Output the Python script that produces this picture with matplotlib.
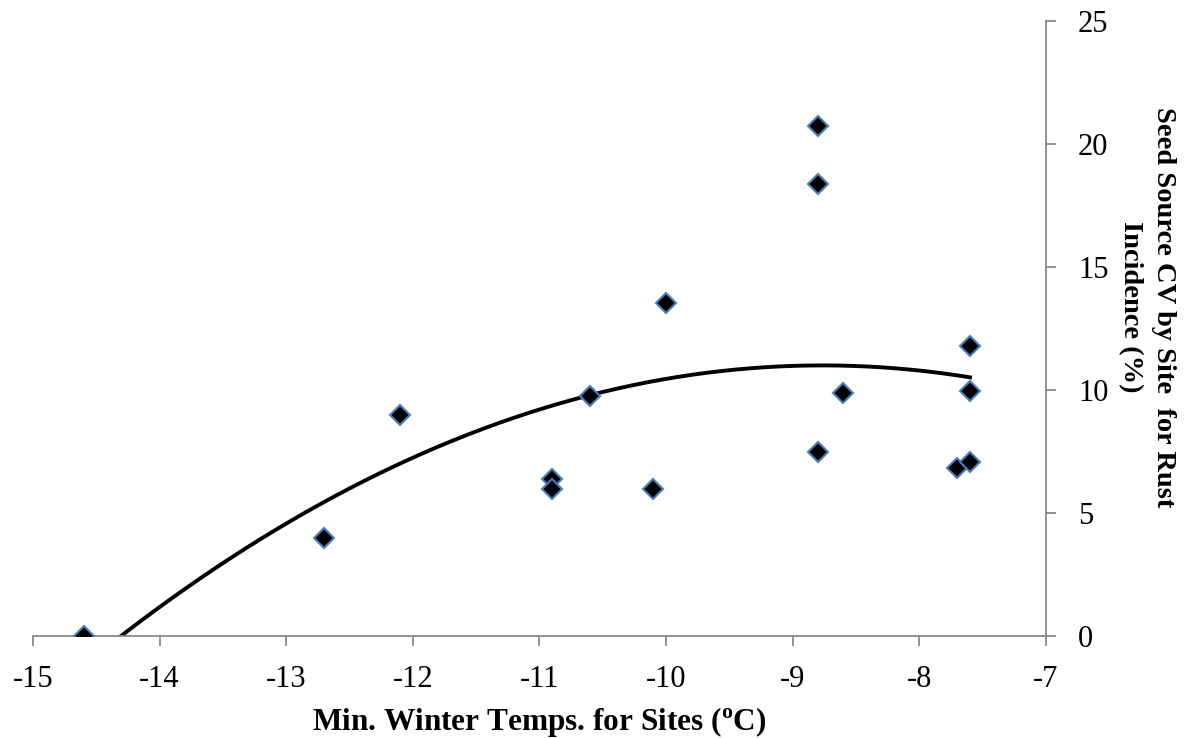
import numpy as np
import matplotlib
matplotlib.use("Agg")
import matplotlib.pyplot as plt

# min winter temperature per site vs CV of rust incidence
temps = [-14.6, -12.7, -12.1, -10.9, -10.9, -10.6, -10.1, -10.0,
         -8.8, -8.8, -8.8, -8.6, -7.7, -7.6, -7.6, -7.6]
cv = [0.0, 4.0, 9.0, 6.38, 5.98, 9.76, 5.98, 13.55,
      20.74, 18.36, 7.48, 9.9, 6.84, 7.06, 9.97, 11.79]

xticks = [-15, -14, -13, -12, -11, -10, -9, -8, -7]
yticks = [0, 5, 10, 15, 20, 25]

plt.rcParams['font.family'] = ['Liberation Serif', 'DejaVu Serif']
plt.rcParams['axes.unicode_minus'] = False
plt.rcParams['mathtext.fontset'] = 'custom'
plt.rcParams['mathtext.rm'] = 'Liberation Serif'
plt.rcParams['mathtext.bf'] = 'Liberation Serif:bold'

fig = plt.figure(figsize=(11.91, 7.38), dpi=100)
ax = fig.add_axes([0.0277, 0.138, 0.8505, 0.8335])

# second order polynomial trendline (like Excel)
coef = np.polyfit(temps, cv, 2)
xx = np.linspace(min(temps), max(temps), 300)
ax.plot(xx, np.polyval(coef, xx), color='black', lw=2.8, zorder=2)

ax.plot(temps, cv, linestyle='none', marker='D', markersize=10.5,
        markerfacecolor='black', markeredgecolor='#4a7ebb',
        markeredgewidth=1.5, zorder=3)

ax.set_xlim(-15, -7)
ax.set_ylim(0, 25)
ax.set_xticks(xticks)
ax.set_yticks(yticks)

for s in ['top', 'left']:
    ax.spines[s].set_visible(False)
for s in ['bottom', 'right']:
    ax.spines[s].set_color('#898989')
    ax.spines[s].set_linewidth(1.3)

ax.yaxis.tick_right()
ax.yaxis.set_label_position('right')
ax.tick_params(axis='both', direction='out', length=7, width=1.3,
               color='#898989', labelsize=22)
ax.tick_params(axis='x', pad=14)
ax.tick_params(axis='y', pad=16)

ax.set_xlabel(r'Min. Winter Temps. for Sites ($^{\mathbf{o}}$C)',
              fontsize=22.5, fontweight='bold', labelpad=8)
ax.set_ylabel('Seed Source CV by Site  for Rust\nIncidence (%)',
              fontsize=20.5, fontweight='bold', rotation=270,
              linespacing=1.4)
ax.yaxis.set_label_coords(1.128, 0.535)

plt.savefig('out.png', dpi=100)
